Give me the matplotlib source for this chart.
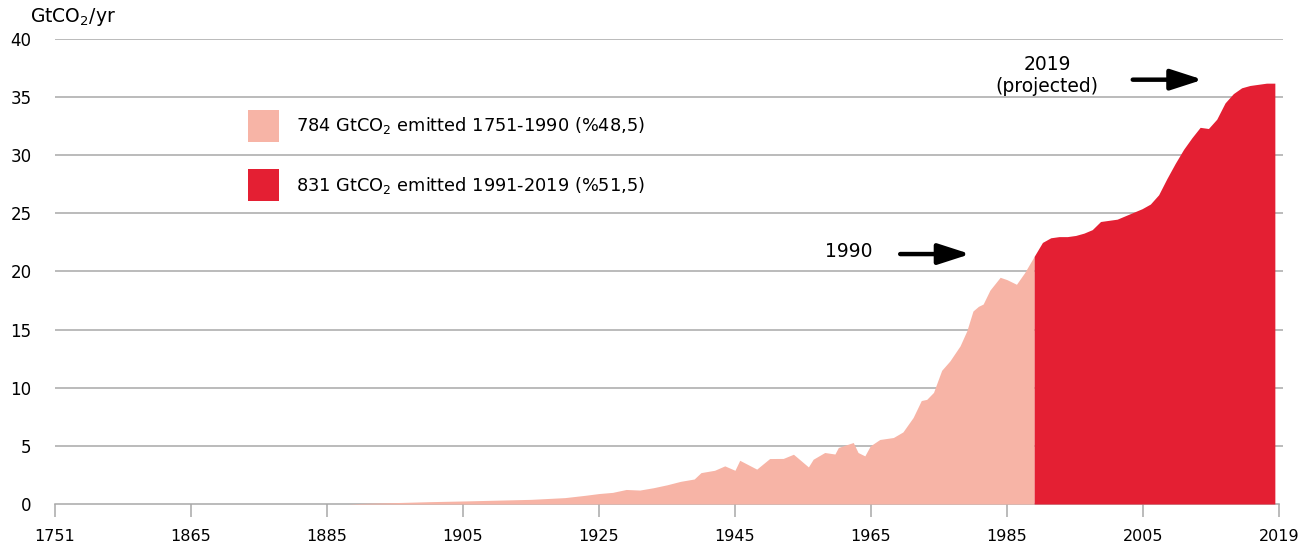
import numpy as np
import matplotlib
matplotlib.use("Agg")
import matplotlib.pyplot as plt
from matplotlib.patches import Patch

# ── Data ──────────────────────────────────────────────────────────────────────
# 1751-1990 part, years as they sit on the chart's axis
pink_years = [1888, 1890, 1895, 1900, 1905, 1910, 1915, 1920, 1923, 1925,
              1927, 1929, 1931, 1933, 1935, 1937, 1939, 1940, 1942, 1943.5,
              1945, 1945.7, 1948.2, 1950.1, 1952.1, 1953.6, 1955.8, 1956.5,
              1958.2, 1959.7, 1960.2, 1962.4, 1963.1, 1964.1, 1964.9, 1966.3,
              1968.3, 1969.7, 1971.2, 1972.4, 1973.2, 1974.2, 1975.4, 1976.6,
              1978.1, 1979.1, 1980.0, 1980.8, 1981.5, 1982.5, 1984.0, 1985.0,
              1986.4, 1987.6, 1989.0]
pink_vals = [0.0, 0.05, 0.12, 0.2, 0.26, 0.33, 0.4, 0.55, 0.75, 0.9,
             1.0, 1.25, 1.2, 1.4, 1.65, 1.95, 2.15, 2.7, 2.9, 3.28,
             2.9, 3.76, 3.0, 3.91, 3.92, 4.28, 3.19, 3.85,
             4.43, 4.3, 4.86, 5.29, 4.43, 4.14, 5.0, 5.55,
             5.72, 6.2, 7.44, 8.9, 9.0, 9.6, 11.5, 12.3,
             13.6, 14.9, 16.6, 17.0, 17.2, 18.4, 19.5, 19.3,
             18.9, 19.9, 21.3]

# 1991-2019 part, real years (the chart stretches this stretch of the axis)
red_years = list(range(1990, 2020))
red_vals = [21.3, 22.5, 22.9, 23.0, 23.0, 23.1, 23.3, 23.6, 24.3, 24.4,
            24.5, 24.8, 25.1, 25.4, 25.8, 26.6, 28.0, 29.3, 30.5, 31.5,
            32.4, 32.3, 33.1, 34.5, 35.3, 35.8, 36.0, 36.1, 36.2, 36.2]

tick_pos = [1845, 1865, 1885, 1905, 1925, 1945, 1965, 1985, 2005, 2025]
tick_labels = ["1751", "1865", "1885", "1905", "1925", "1945", "1965",
               "1985", "2005", "2019"]
y_ticks = [0, 5, 10, 15, 20, 25, 30, 35, 40]

legend_labels = ["784 GtCO$_2$ emitted 1751-1990 (%48,5)",
                 "831 GtCO$_2$ emitted 1991-2019 (%51,5)"]

PINK = "#F7B4A6"
RED = "#E41F33"
GRID = "#A8A8A8"

plt.rcParams["font.family"] = ["DejaVu Sans"]
plt.rcParams["font.size"] = 11

fig = plt.figure(figsize=(13.04, 5.53), dpi=100)
ax = fig.add_axes([0.0422, 0.0886, 0.9417, 0.8409])

# stretch 1990-2019 onto the span the original chart gives it
red_x = np.interp(red_years, [1990, 2019], [1989.0, 2024.4])

ax.fill_between(pink_years, 0, pink_vals, color=PINK, lw=0, zorder=3)
ax.fill_between(red_x, 0, red_vals, color=RED, lw=0, zorder=3)

ax.set_xlim(1845, 2025.6)
ax.set_ylim(0, 40)
ax.set_yticks(y_ticks)
ax.set_xticks(tick_pos)
ax.set_xticklabels(tick_labels)

for v in y_ticks[1:]:
    ax.axhline(v, color=GRID, lw=1.1, zorder=1)

for s in ("top", "right", "left"):
    ax.spines[s].set_visible(False)
ax.spines["bottom"].set_color(GRID)
ax.spines["bottom"].set_linewidth(1.1)
ax.spines["bottom"].set_bounds(1845, 2025)
ax.tick_params(axis="x", length=9, width=1.1, color=GRID, pad=9,
               labelsize=11.5, labelcolor="black")
ax.tick_params(axis="y", length=0, pad=17, labelsize=12)

fig.text(0.023, 0.970, "GtCO$_2$/yr", fontsize=13.5, va="center", ha="left")

# legend
handles = [Patch(facecolor=PINK, edgecolor="none"),
           Patch(facecolor=RED, edgecolor="none")]
ax.legend(handles, legend_labels, loc="upper left",
          bbox_to_anchor=(248 / 1304, 1 - 110 / 553),
          bbox_transform=fig.transFigure, frameon=False, borderpad=0,
          handlelength=1.75, handleheight=2.35, handletextpad=0.95,
          labelspacing=1.57, fontsize=12.8, borderaxespad=0)

# annotations
arrow = dict(arrowstyle="-|>,head_length=1.3,head_width=0.42", lw=3.2,
             color="black", shrinkA=0, shrinkB=0, mutation_scale=15)
ax.annotate("", xy=(1979.6, 21.5), xytext=(1969.3, 21.5),
            arrowprops=arrow, zorder=5)
ax.text(1961.8, 21.75, "1990", ha="center", va="center", fontsize=13.5)

ax.annotate("", xy=(2013.8, 36.5), xytext=(2003.5, 36.5),
            arrowprops=arrow, zorder=5, annotation_clip=False)
ax.text(1990.9, 36.85, "2019\n(projected)", ha="center", va="center",
        fontsize=13.5, linespacing=1.15)

fig.savefig("out.png", dpi=100)
